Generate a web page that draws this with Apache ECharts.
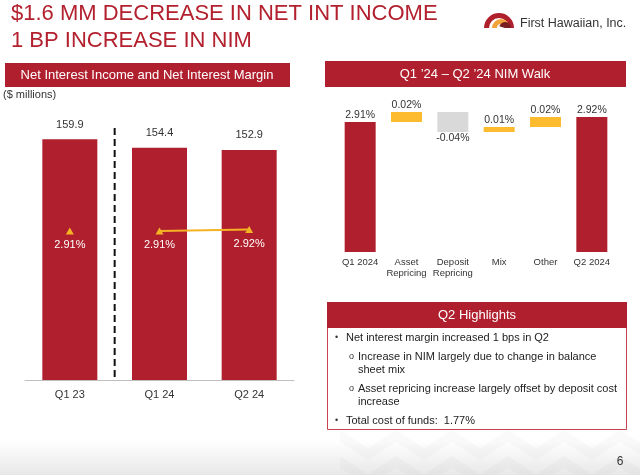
<!DOCTYPE html>
<html>
<head>
<meta charset="utf-8">
<script src="https://cdn.jsdelivr.net/npm/echarts@6/dist/echarts.min.js"></script>
<style>
html,body{margin:0;padding:0;background:#fff;}
#c{width:640px;height:475px;}
</style>
</head>
<body>
<div id="c"></div>
<script>
// ---- data ----
var niiCategories = ['Q1 23', 'Q1 24', 'Q2 24'];
var niiValues = [159.9, 154.4, 152.9];
var nimQ1_23 = [2.91, '-', '-'];
var nimRecent = ['-', 2.91, 2.92];
var dividerTop = 167.5;

var walkCategories = ['Q1 2024', 'Asset\nRepricing', 'Deposit\nRepricing', 'Mix', 'Other', 'Q2 2024'];
var walkStart = 2.91;
var walkDeltas = [0.02, -0.04, 0.01, 0.02];
var walkEnd = 2.92;

var highlights = [
  'Net interest margin increased 1 bps in Q2',
  'Increase in NIM largely due to change in balance',
  'sheet mix',
  'Asset repricing increase largely offset by deposit cost',
  'increase',
  'Total cost of funds:  1.77%'
];

// ---- build waterfall ----
var FONT = "'Liberation Sans', Arial, sans-serif";
var RED = '#AF1F2D';
var YEL = '#FDBB2F';
var GRY = '#D9D9D9';
var base = ['-'], totals = [walkStart], inc = ['-'], dec = ['-'];
var run = walkStart;
walkDeltas.forEach(function (d) {
  var next = Math.round((run + d) * 100) / 100;
  totals.push('-');
  if (d >= 0) { base.push(run); inc.push(d); dec.push('-'); }
  else { base.push(next); inc.push('-'); dec.push(-d); }
  run = next;
});
base.push('-'); totals.push(walkEnd); inc.push('-'); dec.push('-');

function pct(v) { return v.toFixed(2) + '%'; }

var chart = echarts.init(document.getElementById('c'), null, {renderer: 'canvas', width: 640, height: 475});

// graphic decorations
var g = [];
// bottom gradient
g.push({type: 'rect', z: -10, shape: {x: 0, y: 440, width: 640, height: 35},
  style: {fill: new echarts.graphic.LinearGradient(0, 0, 0, 1, [{offset: 0, color: '#ffffff'}, {offset: 1, color: '#e8e8e8'}])}});
// faint chevrons
for (var i = 0; i < 6; i++) {
  for (var r = 0; r < 2; r++) {
    var x0 = 340 + i * 56, y0 = 430 + r * 26;
    g.push({type: 'polygon', z: -9, shape: {points: [[x0, y0], [x0 + 28, y0 + 18], [x0 + 56, y0], [x0 + 56, y0 + 12], [x0 + 28, y0 + 30], [x0, y0 + 12]]},
      style: {fill: 'rgba(0,0,0,0.02)'}});
  }
}
// title
g.push({type: 'text', style: {text: '$1.6 MM DECREASE IN NET INT INCOME', x: 11, y: 14, fill: '#B3202E', fontSize: 22, fontFamily: FONT, verticalAlign: 'middle', align: 'left'}});
g.push({type: 'text', style: {text: '1 BP INCREASE IN NIM', x: 11, y: 41, fill: '#B3202E', fontSize: 22, fontFamily: FONT, verticalAlign: 'middle', align: 'left'}});
// logo
g.push({type: 'sector', shape: {cx: 499, cy: 28, r0: 10, r: 15, startAngle: Math.PI, endAngle: 2 * Math.PI}, style: {fill: '#B01F2C'}});
g.push({type: 'sector', shape: {cx: 501, cy: 28, r0: 4, r: 9, startAngle: Math.PI, endAngle: 2 * Math.PI}, style: {fill: '#F2A33A'}});
g.push({type: 'sector', shape: {cx: 505, cy: 28, r0: 0, r: 6, startAngle: Math.PI * 1.1, endAngle: 2 * Math.PI}, style: {fill: '#7B1E22'}});
g.push({type: 'text', style: {text: 'First Hawaiian, Inc.', x: 520, y: 24, fill: '#333', fontSize: 12.5, fontFamily: FONT, verticalAlign: 'middle', align: 'left'}});
// left header
g.push({type: 'rect', shape: {x: 5, y: 63, width: 285, height: 24}, style: {fill: RED}});
g.push({type: 'text', style: {text: 'Net Interest Income and Net Interest Margin', x: 147, y: 75, fill: '#fff', fontSize: 13, fontFamily: FONT, verticalAlign: 'middle', align: 'center'}});
g.push({type: 'text', style: {text: '($ millions)', x: 3, y: 95, fill: '#333', fontSize: 11, fontFamily: FONT, verticalAlign: 'middle', align: 'left'}});
// right header
g.push({type: 'rect', shape: {x: 325, y: 61, width: 301, height: 26}, style: {fill: RED}});
g.push({type: 'text', style: {text: 'Q1 \u201924 \u2013 Q2 \u201924 NIM Walk', x: 475, y: 74, fill: '#fff', fontSize: 13, fontFamily: FONT, verticalAlign: 'middle', align: 'center'}});
// highlights box
g.push({type: 'rect', shape: {x: 327.5, y: 302.5, width: 299, height: 127}, style: {fill: '#fff', stroke: '#C9434F', lineWidth: 1}});
g.push({type: 'rect', shape: {x: 327, y: 302, width: 300, height: 26}, style: {fill: RED}});
g.push({type: 'text', style: {text: 'Q2 Highlights', x: 477, y: 315, fill: '#fff', fontSize: 13, fontFamily: FONT, verticalAlign: 'middle', align: 'center'}});
var hl = [
  {b: '\u2022', bx: 335, tx: 346, y: 338},
  {b: 'o', bx: 349, tx: 358, y: 357},
  {b: '', bx: 0, tx: 358, y: 370},
  {b: 'o', bx: 349, tx: 358, y: 389},
  {b: '', bx: 0, tx: 358, y: 402},
  {b: '\u2022', bx: 335, tx: 346, y: 421}
];
hl.forEach(function (h, k) {
  if (h.b) g.push({type: 'text', style: {text: h.b, x: h.bx, y: h.y, fill: '#333', fontSize: 9, fontFamily: FONT, verticalAlign: 'middle', align: 'left'}});
  g.push({type: 'text', style: {text: highlights[k], x: h.tx, y: h.y, fill: '#222', fontSize: 11, fontFamily: FONT, verticalAlign: 'middle', align: 'left'}});
});
g.push({type: 'text', style: {text: '6', x: 620, y: 462, fill: '#333', fontSize: 12, fontFamily: FONT, verticalAlign: 'middle', align: 'center'}});

var option = {
  animation: false,
  backgroundColor: '#fff',
  textStyle: {fontFamily: FONT},
  graphic: g,
  grid: [
    {left: 25, top: 79, width: 269, height: 301},
    {left: 337, top: 102, width: 278, height: 150}
  ],
  xAxis: [
    {type: 'category', gridIndex: 0, data: niiCategories,
      axisLine: {lineStyle: {color: '#bfbfbf', width: 1}}, axisTick: {show: false},
      axisLabel: {color: '#333', fontSize: 11, margin: 9, fontFamily: FONT}},
    {type: 'category', gridIndex: 1, data: walkCategories,
      axisLine: {show: false}, axisTick: {show: false},
      axisLabel: {color: '#333', fontSize: 9.5, lineHeight: 11, margin: 5, fontFamily: FONT, interval: 0}}
  ],
  yAxis: [
    {type: 'value', gridIndex: 0, min: 0, max: 200, show: false},
    {type: 'value', gridIndex: 0, min: 1.92, max: 3.92, show: false},
    {type: 'value', gridIndex: 1, min: 2.65, max: 2.95, show: false}
  ],
  series: [
    {type: 'bar', xAxisIndex: 0, yAxisIndex: 0, data: niiValues, barWidth: 55,
      itemStyle: {color: RED},
      label: {show: true, position: 'top', distance: 9, color: '#333', fontSize: 11, fontFamily: FONT,
        formatter: function (p) { return p.value.toFixed(1); }}},
    {type: 'custom', xAxisIndex: 0, yAxisIndex: 0, data: [[0, dividerTop]], z: 5,
      renderItem: function (params, api) {
        var c0 = api.coord([api.value(0), 0]);
        var bw = api.size([1, 0])[0];
        var x = c0[0] + bw / 2;
        var top = api.coord([api.value(0), api.value(1)])[1];
        return {type: 'line', shape: {x1: x, y1: top, x2: x, y2: c0[1]},
          style: {stroke: '#111', lineWidth: 2, lineDash: [7, 4]}};
      }},
    {type: 'line', xAxisIndex: 0, yAxisIndex: 1, data: nimQ1_23, symbol: 'triangle', symbolSize: [8, 7],
      itemStyle: {color: '#F5B324'}, lineStyle: {color: '#F5B324', width: 2}, z: 6,
      label: {show: true, position: 'bottom', distance: 5, color: '#fff', fontSize: 11, fontFamily: FONT,
        formatter: function (p) { return pct(p.value); }}},
    {type: 'line', xAxisIndex: 0, yAxisIndex: 1, data: nimRecent, symbol: 'triangle', symbolSize: [8, 7],
      itemStyle: {color: '#F5B324'}, lineStyle: {color: '#F5B324', width: 2}, z: 6,
      label: {show: true, position: 'bottom', distance: 5, color: '#fff', fontSize: 11, fontFamily: FONT,
        formatter: function (p) { return pct(p.value); }}},
    // waterfall
    {type: 'bar', xAxisIndex: 1, yAxisIndex: 2, stack: 'wf', data: base, barWidth: 31,
      itemStyle: {color: 'rgba(0,0,0,0)'}, silent: true},
    {type: 'bar', xAxisIndex: 1, yAxisIndex: 2, stack: 'wf', data: totals, barWidth: 31,
      itemStyle: {color: RED},
      label: {show: true, position: 'top', distance: 1, color: '#333', fontSize: 10.5, fontFamily: FONT,
        formatter: function (p) { return pct(p.value); }}},
    {type: 'bar', xAxisIndex: 1, yAxisIndex: 2, stack: 'wf', data: inc, barWidth: 31,
      itemStyle: {color: YEL},
      label: {show: true, position: 'top', distance: 1, color: '#333', fontSize: 10.5, fontFamily: FONT,
        formatter: function (p) { return pct(p.value); }}},
    {type: 'bar', xAxisIndex: 1, yAxisIndex: 2, stack: 'wf', data: dec, barWidth: 31,
      itemStyle: {color: GRY},
      label: {show: true, position: 'bottom', distance: 1, color: '#333', fontSize: 10.5, fontFamily: FONT,
        formatter: function (p) { return pct(-p.value); }}}
  ]
};
chart.setOption(option);
</script>
</body>
</html>
